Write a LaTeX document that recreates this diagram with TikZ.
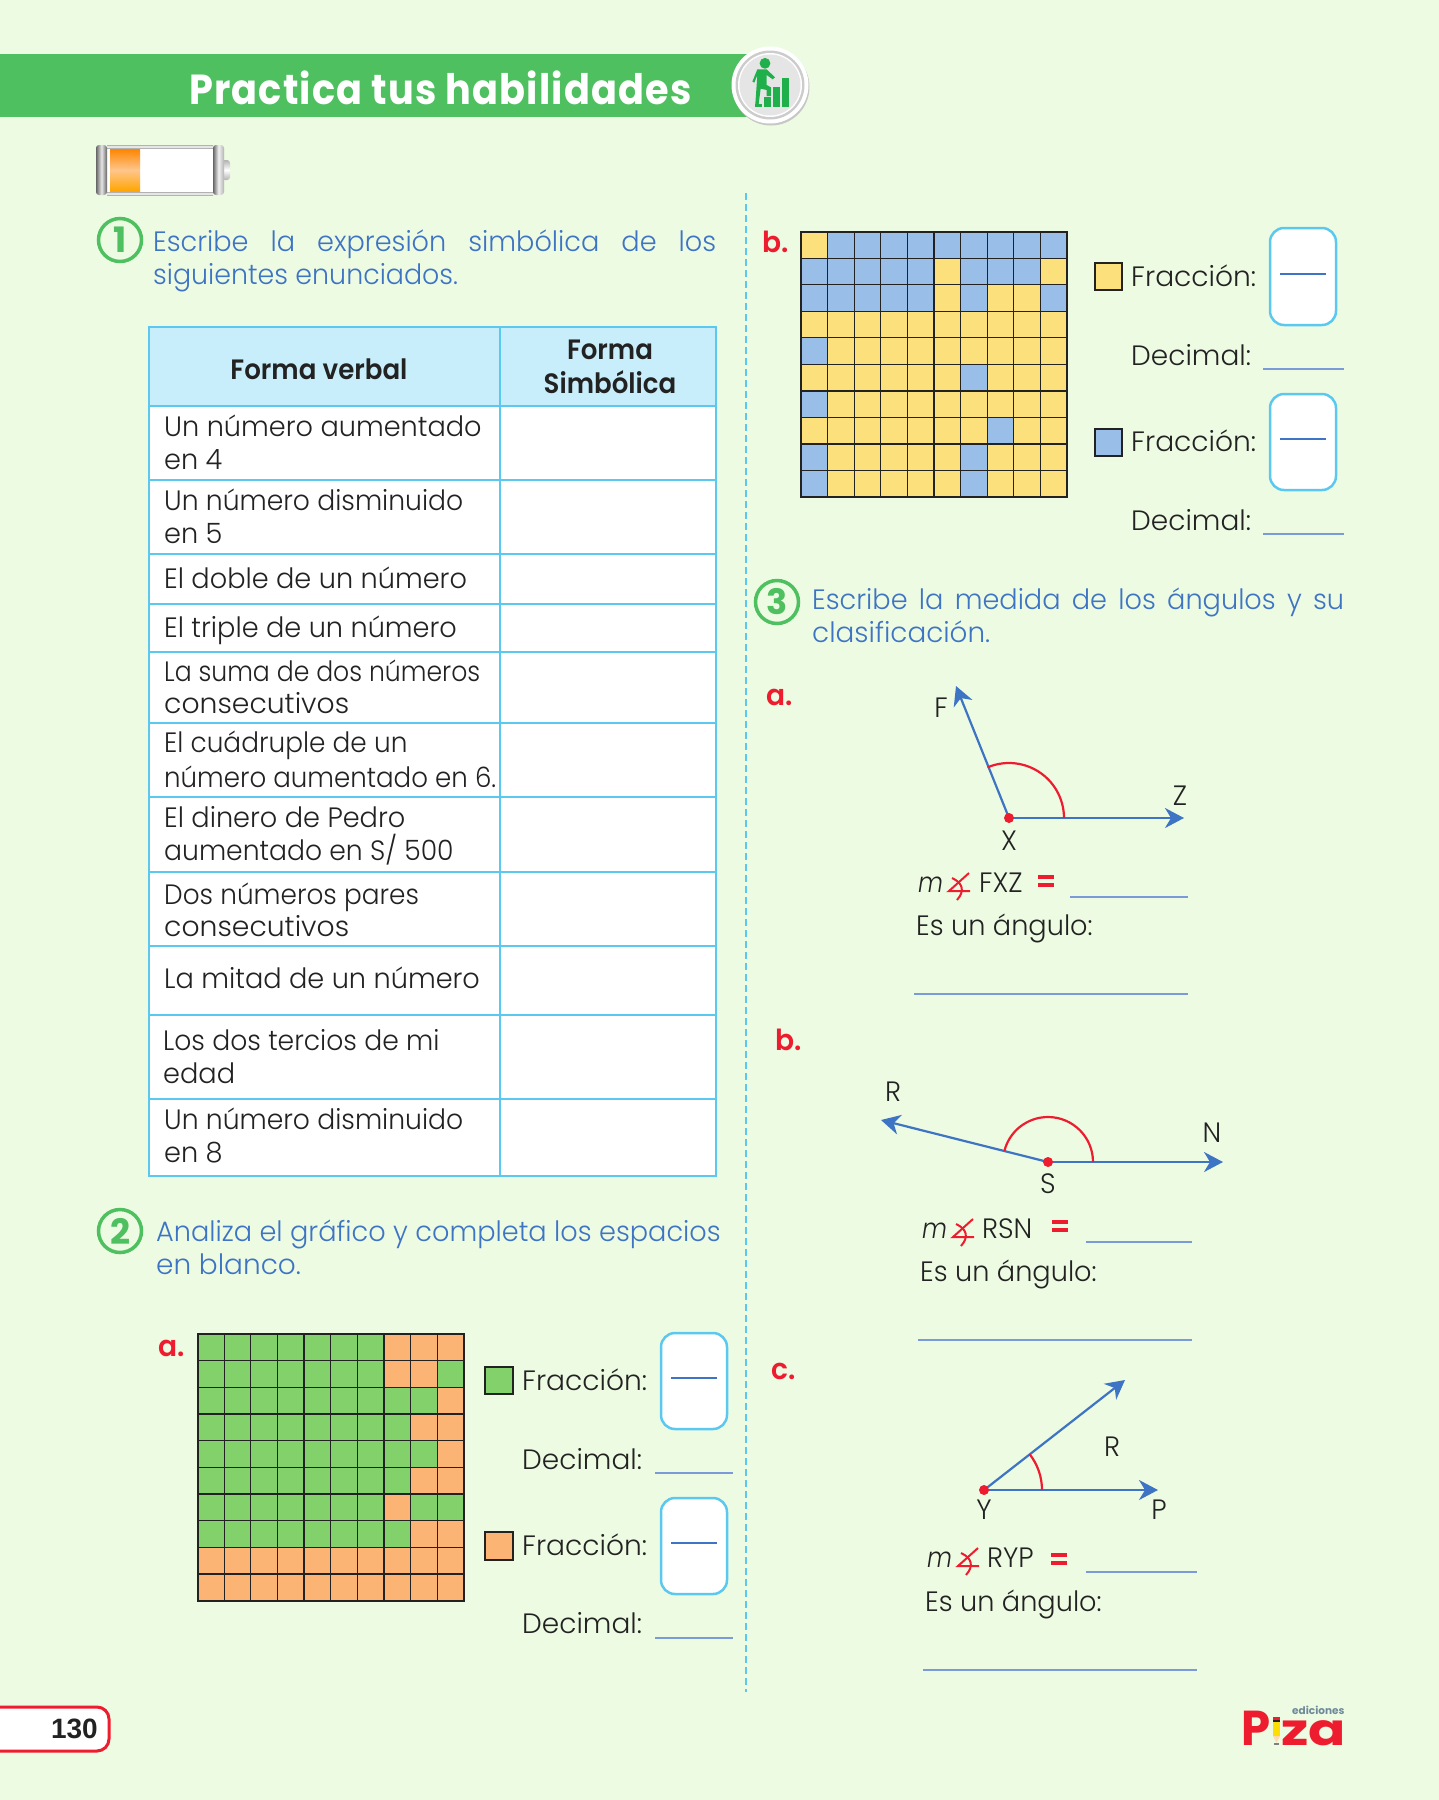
\documentclass[tikz,border=0pt]{standalone}
\usepackage{fontspec}
\usetikzlibrary{arrows.meta}
\setmainfont{Poppins}[FakeStretch=0.97,UprightFont=* Light,BoldFont=* SemiBold,ItalicFont=* Light Italic]
\newfontfamily\popb{Poppins}[UprightFont=* Bold]
\newfontfamily\arialf{Liberation Sans}
\definecolor{pagebg}{HTML}{EEFBE3}
\definecolor{bannergreen}{HTML}{4EC060}
\definecolor{iconGreen}{HTML}{1FAF4B}
\definecolor{tblue}{HTML}{3E74C4}
\definecolor{lineblue}{HTML}{7A9BD8}
\definecolor{sky}{HTML}{5BC8F0}
\definecolor{headfill}{HTML}{C9EEFB}
\definecolor{inkdark}{HTML}{222222}
\definecolor{redm}{HTML}{ED1C2E}
\definecolor{cgreen}{HTML}{82D16A}
\definecolor{corange}{HTML}{FBB474}
\definecolor{cyellow}{HTML}{FCE07C}
\definecolor{cblue}{HTML}{99BEE8}
\definecolor{logogray}{HTML}{6E8A9A}
\newcommand{\bodyfs}{\fontsize{28}{33}\selectfont}
\tikzset{
  txt/.style={anchor=base west,inner sep=0pt,text=inkdark,font=\bodyfs},
  txtc/.style={anchor=base,inner sep=0pt,text=inkdark,font=\bodyfs},
  headt/.style={anchor=base,inner sep=0pt,text=inkdark,font=\bodyfs\bfseries,xscale=0.96},
  instr/.style={anchor=base west,inner sep=0pt,text=tblue,font=\bodyfs},
  letterlabel/.style={anchor=base west,inner sep=0pt,text=redm,font=\fontsize{29}{33}\selectfont\bfseries},
  numcircle/.style={circle,draw=bannergreen,line width=3.5pt,minimum size=43pt,inner sep=0pt,text=bannergreen,font=\fontsize{35}{35}\popb},
  tblline/.style={draw=sky,line width=2.5pt},
  answer/.style={draw=lineblue,line width=2pt},
  fracbox/.style={draw=sky,line width=2.5pt,fill=white,rounded corners=14pt},
  fracbar/.style={draw=tblue,line width=2pt},
  swatch/.style={draw=inkdark,line width=2pt},
  ray/.style={draw=tblue,line width=2.2pt,-{Stealth[length=19pt,width=20pt,inset=6pt]}},
  anglearc/.style={draw=redm,line width=2.2pt},
  ptdot/.style={circle,fill=redm,inner sep=0pt,minimum size=10pt},
  gridcell/.style={draw=inkdark,line width=1.3pt},
}
\newcommand{\angmark}[2]{%
  \begin{scope}[shift={(#1,#2)}]
    \draw[redm,line width=2pt] (20,0) -- (0,18) -- (21,18);
    \draw[redm,line width=2pt] (3,5) .. controls (14,10) and (16,18) .. (8,27);
  \end{scope}}
\newcommand{\eqmark}[2]{%
  \fill[redm] (#1,#2) rectangle ++(16,4);
  \fill[redm] (#1,#2+8) rectangle ++(16,4);}
\begin{document}
\begin{tikzpicture}[x=1pt,y=-1pt]
\useasboundingbox (0,0) rectangle (1439,1800);
\fill[pagebg] (0,0) rectangle (1439,1800);

% banner
\fill[bannergreen] (0,54) rectangle (748,117);
\node[anchor=base west,inner sep=0pt,text=white,font=\fontsize{42}{42}\popb,xscale=0.91] (title) at (189,104) {\addfontfeature{LetterSpace=3}Practica tus habilidades};
% badge
\fill[black!22] (771,87) circle (38.5pt);
\fill[white] (770,85) circle (38.5pt);
\fill[black!20] (770,85) circle (34.5pt);
\fill[white] (770,85) circle (32pt);
\fill[black!10] (770,85) circle (30.5pt);
\begin{scope}[shift={(720,40)},x=0.3333pt,y=-0.3333pt]
  \fill[iconGreen] (135,70) circle (5.4pt);
  \fill[iconGreen] (112,88) -- (140,88) -- (165,112) -- (158,118) -- (140,105) -- (140,135) -- (153,142) -- (153,168) -- (140,168) -- (140,150) -- (122,146) -- (116,192) -- (106,192) -- (110,135) -- (112,105) -- (103,128) -- (97,125) -- cycle;
  \fill[iconGreen] (105,192) rectangle (127,200);
  \fill[iconGreen] (132,170) rectangle (153,200);
  \fill[iconGreen] (160,140) rectangle (181,200);
  \fill[iconGreen] (186,114) rectangle (207,200);
\end{scope}

% battery
\begin{scope}
  \shade[top color=black!30,bottom color=black!30,middle color=white,rounded corners=3pt] (222,160) rectangle (230,180);
  \fill[white] (105,147) rectangle (215,193);
  \shade[top color=black!30,bottom color=black!30,middle color=white] (107,145) rectangle (213,148);
  \shade[top color=black!30,bottom color=black!30,middle color=white] (107,192) rectangle (213,195);
  \shade[left color=black!60,right color=black!60,middle color=black!10,rounded corners=3pt] (96,145) rectangle (107,195);
  \shade[left color=black!60,right color=black!30,middle color=black!5,rounded corners=3pt] (213,145) rectangle (224,195);
  \shade[top color=orange!95!yellow,bottom color=orange!70!yellow,middle color=orange!45!white] (110,149) rectangle (140,191);
\end{scope}

% divider
\draw[sky,line width=2pt,dash pattern=on 7pt off 4pt] (746,193) -- (746,1692);

% section 1
\node[numcircle] (n1) at (120,240) {1};
\node[instr] (i1a) at (153,251) {\makebox[563pt][s]{Escribe la expresión simbólica de los}};
\node[instr,xscale=0.99] (i1b) at (153,284) {siguientes enunciados.};

% table
\fill[white] (149,406) rectangle (716,1176);
\fill[headfill] (149,327) rectangle (716,406);
\draw[tblline] (149,327) rectangle (716,1176);
\draw[tblline] (500,327) -- (500,1176);
\foreach \yy in {406,480,554,604,652,723,797,872,946,1015,1099}
  \draw[tblline] (149,\yy) -- (716,\yy);
\node[headt] (h1) at (319,379) {Forma verbal};
\node[headt] (h2a) at (610,359) {Forma};
\node[headt] (h2b) at (610,393) {Simbólica};
\node[txt] (r1a) at (164,436) {Un número aumentado};
\node[txt] (r1b) at (164,469) {en 4};
\node[txt,xscale=0.98] (r2a) at (164,510) {Un número disminuido};
\node[txt] (r2b) at (164,543) {en 5};
\node[txt] (r3) at (164,588) {El doble de un número};
\node[txt] (r4) at (164,637) {El triple de un número};
\node[txt,xscale=0.925] (r5a) at (164,681) {La suma de dos números};
\node[txt,xscale=1.04] (r5b) at (164,713) {consecutivos};
\node[txt,xscale=0.97] (r6a) at (164,752) {El cuádruple de un};
\node[txt,xscale=0.96] (r6b) at (164,787) {número aumentado en 6.};
\node[txt] (r7a) at (164,827) {El dinero de Pedro};
\node[txt,xscale=0.98] (r7b) at (164,860) {aumentado en S/ 500};
\node[txt,xscale=0.97] (r8a) at (164,904) {Dos números pares};
\node[txt,xscale=1.04] (r8b) at (164,936) {consecutivos};
\node[txt] (r9) at (164,988) {La mitad de un número};
\node[txt,xscale=0.98] (r10a) at (163,1050) {Los dos tercios de mi};
\node[txt] (r10b) at (163,1083) {edad};
\node[txt,xscale=0.98] (r11a) at (164,1129) {Un número disminuido};
\node[txt] (r11b) at (164,1162) {en 8};

% section 2
\node[numcircle] (n2) at (120,1231) {2};
\node[instr] (i2a) at (156,1241) {Analiza el gráfico y completa los espacios};
\node[instr,xscale=1.03] (i2b) at (156,1274) {en blanco.};
\node[letterlabel] (la) at (158,1356) {a.};

% grid a
\begin{scope}[shift={(197.5,1334)},x=26.65pt,y=-26.67pt]
  \fill[cgreen] (0,0) rectangle (10,10);
  \fill[corange] (0,8) rectangle (10,10);
  \foreach \c/\r in {8/1,9/1,10/1,8/2,9/2,10/3,9/4,10/4,10/5,9/6,10/6,8/7,9/8,10/8}
    \fill[corange] (\c-1,\r-1) rectangle (\c,\r);
  \foreach \k in {1,...,9} { \draw[gridcell] (\k,0) -- (\k,10); \draw[gridcell] (0,\k) -- (10,\k); }
  \draw[inkdark,line width=2pt] (0,0) rectangle (10,10);
\end{scope}
\draw[swatch,fill=cgreen] (485,1367) rectangle (513,1394);
\draw[swatch,fill=corange] (485,1532) rectangle (513,1560);
\node[txt,xscale=1.035] (fa1) at (522,1390) {Fracción:};
\node[txt,xscale=1.03] (da1) at (522,1469) {Decimal:};
\node[txt,xscale=1.035] (fa2) at (522,1555) {Fracción:};
\node[txt,xscale=1.03] (da2) at (522,1633) {Decimal:};
\draw[fracbox] (661,1333) rectangle (727,1429);
\draw[fracbar] (671,1378) -- (717,1378);
\draw[fracbox] (661,1498) rectangle (727,1594);
\draw[fracbar] (671,1543) -- (717,1543);
\draw[answer] (655,1473) -- (733,1473);
\draw[answer] (655,1638) -- (733,1638);

% grid b
\node[letterlabel] (lb) at (762,252) {b.};
\begin{scope}[shift={(801,231.7)},x=26.6pt,y=-26.53pt]
  \fill[cyellow] (0,0) rectangle (10,10);
  \foreach \c/\r in {2/1,3/1,4/1,5/1,6/1,7/1,8/1,9/1,10/1,1/2,2/2,3/2,4/2,5/2,7/2,8/2,9/2,1/3,2/3,3/3,4/3,5/3,7/3,10/3,1/5,7/6,1/7,8/8,1/9,7/9,1/10,7/10}
    \fill[cblue] (\c-1,\r-1) rectangle (\c,\r);
  \foreach \k in {1,...,9} { \draw[gridcell] (\k,0) -- (\k,10); \draw[gridcell] (0,\k) -- (10,\k); }
  \draw[inkdark,line width=2pt] (0,0) rectangle (10,10);
\end{scope}
\draw[swatch,fill=cyellow] (1095,263) rectangle (1122,290);
\draw[swatch,fill=cblue] (1095,429) rectangle (1122,456);
\node[txt,xscale=1.035] (fb1) at (1131,286) {Fracción:};
\node[txt,xscale=1.03] (db1) at (1131,365) {Decimal:};
\node[txt,xscale=1.035] (fb2) at (1131,451) {Fracción:};
\node[txt,xscale=1.03] (db2) at (1131,530) {Decimal:};
\draw[fracbox] (1270,228) rectangle (1336,325);
\draw[fracbar] (1280,274) -- (1326,274);
\draw[fracbox] (1270,394) rectangle (1336,490);
\draw[fracbar] (1280,439) -- (1326,439);
\draw[answer] (1263,369) -- (1344,369);
\draw[answer] (1263,534) -- (1344,534);

% section 3
\node[numcircle] (n3) at (777,602) {3};
\node[instr] (i3a) at (812,609) {\makebox[532pt][s]{Escribe la medida de los ángulos y su}};
\node[instr,xscale=1.025] (i3b) at (812,642) {clasificación.};

% angle a
\node[letterlabel] (l3a) at (766,705) {a.};
\coordinate (X) at (1009,818);
\coordinate (F) at (956,686);
\coordinate (Z) at (1184,818);
\draw[ray] (X) -- (F);
\draw[ray] (X) -- (Z);
\draw[anglearc] (1064,818) arc[start angle=0,end angle=113,radius=55pt];
\node[ptdot] (Xd) at (X) {};
\node[txtc,anchor=center] (lF) at (941,708) {F};
\node[txtc,anchor=center] (lZ) at (1180,796) {Z};
\node[txtc,anchor=center] (lX) at (1009,841) {X};
\node[txt,xscale=0.9] (ma) at (918,892) {\textit{m}};
\angmark{949}{873}
\node[txt] (fxz) at (979,892) {FXZ};
\eqmark{1038}{875}
\draw[answer] (1070,897) -- (1188,897);
\node[txt] (ea) at (916,935) {Es un ángulo:};
\draw[answer] (914,994) -- (1188,994);

% angle b
\node[letterlabel] (l3b) at (775,1050) {b.};
\coordinate (S) at (1048,1162);
\coordinate (Rb) at (881,1120);
\coordinate (N) at (1223,1162);
\draw[ray] (S) -- (Rb);
\draw[ray] (S) -- (N);
\draw[anglearc] (1093,1162) arc[start angle=0,end angle=166,radius=45pt];
\node[ptdot] (Sd) at (S) {};
\node[txtc,anchor=center] (lR) at (893,1092) {R};
\node[txtc,anchor=center] (lN) at (1212,1133) {N};
\node[txtc,anchor=center] (lS) at (1048,1184) {S};
\node[txt,xscale=0.9] (mb) at (922,1238) {\textit{m}};
\angmark{953}{1219}
\node[txt] (rsn) at (982,1238) {RSN};
\eqmark{1052}{1220}
\draw[answer] (1086,1242) -- (1192,1242);
\node[txt] (eb) at (920,1281) {Es un ángulo:};
\draw[answer] (918,1340) -- (1192,1340);

% angle c
\node[letterlabel] (l3c) at (771,1379) {c.};
\coordinate (Y) at (984,1490);
\coordinate (Rc) at (1125,1380);
\coordinate (P) at (1158,1490);
\draw[ray] (Y) -- (Rc);
\draw[ray] (Y) -- (P);
\draw[anglearc] (1042,1490) arc[start angle=0,end angle=38,radius=58pt];
\node[ptdot] (Yd) at (Y) {};
\node[txtc,anchor=center] (lRc) at (1112,1447) {R};
\node[txtc,anchor=center] (lY) at (984,1510) {Y};
\node[txtc,anchor=center] (lP) at (1159,1510) {P};
\node[txt,xscale=0.9] (mc) at (927,1567) {\textit{m}};
\angmark{958}{1548}
\node[txt] (ryp) at (987,1567) {RYP};
\eqmark{1051}{1553}
\draw[answer] (1086,1572) -- (1197,1572);
\node[txt] (ec) at (925,1611) {Es un ángulo:};
\draw[answer] (923,1670) -- (1197,1670);

% page number
\draw[redm,line width=3pt,fill=white,rounded corners=12pt] (-20,1707) rectangle (109,1751);
\node[anchor=base east,inner sep=0pt,text=inkdark,font=\fontsize{28}{28}\arialf\bfseries] (pg) at (98,1738) {130};

% logo
\node[anchor=base west,inner sep=0pt,text=redm,font=\fontsize{49}{49}\popb,xscale=0.95] (logoP) at (1241,1745) {P};
\node[anchor=base west,inner sep=0pt,text=redm,font=\fontsize{44}{44}\popb,xscale=1.25] (logoZ) at (1281,1745) {za};
\node[anchor=base west,inner sep=0pt,text=logogray,font=\fontsize{10.5}{11}\popb] (logoE) at (1292,1714) {ediciones};
\fill[redm] (1273,1717) rectangle (1280,1720);
\fill[inkdark] (1273,1720) rectangle (1280,1722);
\fill[yellow!80!orange] (1273,1722) rectangle (1280,1736);
\fill[orange!30!white] (1273,1736) -- (1280,1736) -- (1276.5,1743) -- cycle;
\fill[black!50] (1274,1743) rectangle (1279,1745);
\end{tikzpicture}
\end{document}
